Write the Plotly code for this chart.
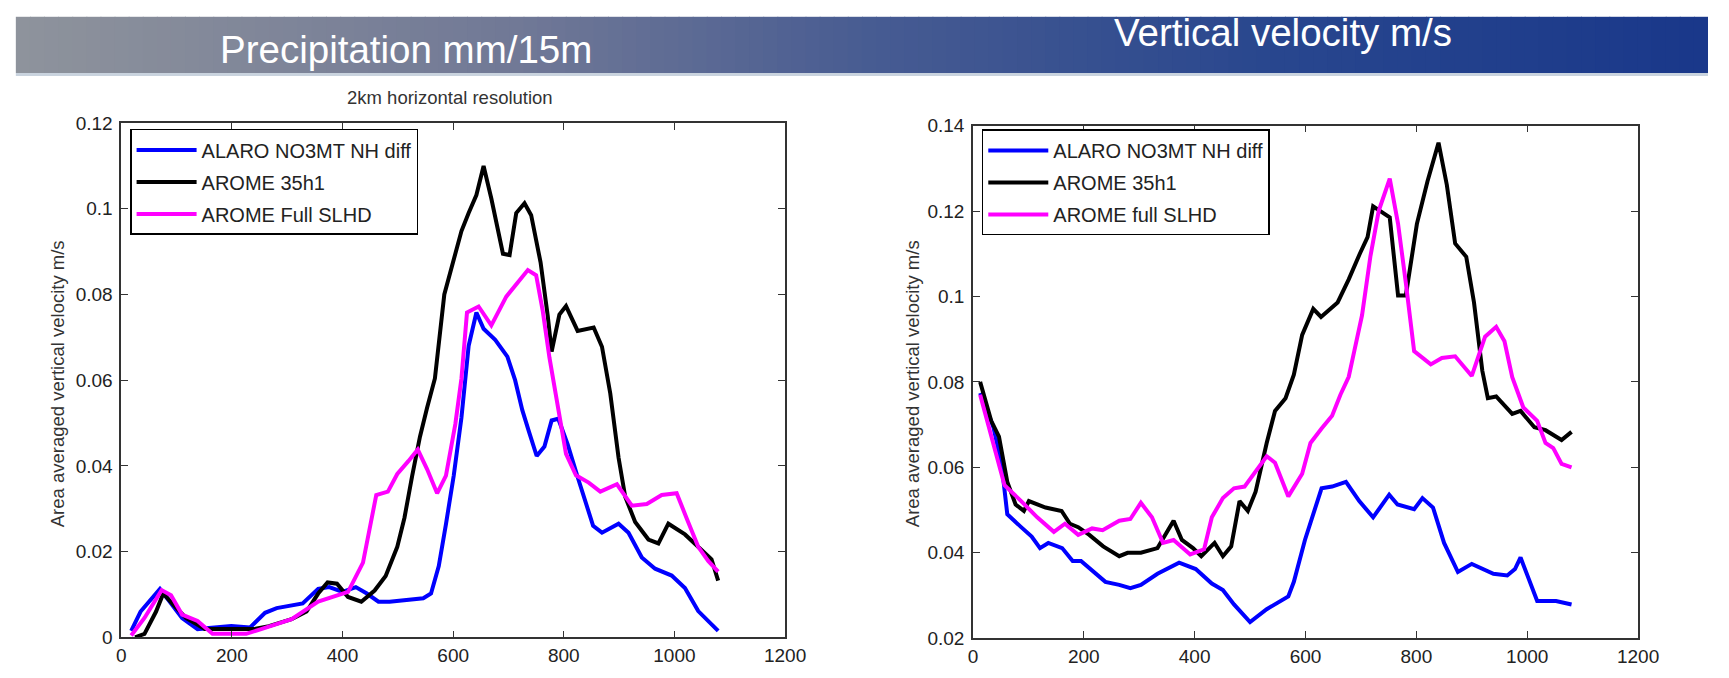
import plotly.graph_objects as go

# ---------------- data ----------------
series_names_left = ["ALARO NO3MT NH diff", "AROME 35h1", "AROME Full SLHD"]
series_names_right = ["ALARO NO3MT NH diff", "AROME 35h1", "AROME full SLHD"]

x_ticks = [0, 200, 400, 600, 800, 1000, 1200]

# Left panel (precipitation)
left_alaro_x = [18, 35, 70, 90, 110, 138, 172, 199, 233, 260, 281, 328, 356, 376, 400, 424, 444, 465, 485, 546,
                560, 574, 587, 601, 615, 628, 642, 655, 676, 698, 712, 725, 737, 751, 765, 778, 790, 807, 826, 853,
                869, 899, 917, 941, 965, 995, 1019, 1043, 1079]
left_alaro_y = [0.0015, 0.006, 0.0113, 0.008, 0.0045, 0.0019, 0.0023, 0.0026, 0.0023, 0.0057, 0.0068, 0.0079,
                0.0113, 0.0117, 0.0106, 0.0117, 0.0102, 0.0083, 0.0083, 0.0091, 0.0102, 0.0166, 0.0264, 0.0377,
                0.0513, 0.068, 0.0758, 0.072, 0.0694, 0.0655, 0.060, 0.053, 0.048, 0.0423, 0.0445, 0.0506, 0.051,
                0.045, 0.037, 0.026, 0.0244, 0.0265, 0.0244, 0.0186, 0.016, 0.0144, 0.0115, 0.0061, 0.0015]

left_arome_x = [25, 42, 63, 76, 97, 117, 151, 199, 240, 267, 308, 335, 356, 373, 390, 410, 434, 458, 478, 499,
                512, 526, 540, 553, 567, 584, 598, 615, 628, 642, 655, 669, 690, 702, 714, 729, 741, 758, 771, 778,
                792, 804, 825, 854, 869, 884, 899, 911, 929, 953, 971, 989, 1019, 1049, 1067, 1079]
left_arome_y = [0, 0.0008, 0.006, 0.0102, 0.0072, 0.0045, 0.0019, 0.0019, 0.0019, 0.0026, 0.0042, 0.006, 0.0102,
                0.0128, 0.0125, 0.0094, 0.0083, 0.0109, 0.0143, 0.0211, 0.0279, 0.0377, 0.0468, 0.0536, 0.0604,
                0.08, 0.0865, 0.0948, 0.099, 0.1032, 0.11, 0.1024, 0.0895, 0.0892, 0.099, 0.1013, 0.0985, 0.0875,
                0.075, 0.0667, 0.0753, 0.0773, 0.0715, 0.0723, 0.0678, 0.0569, 0.0419, 0.0328, 0.0269, 0.0228,
                0.0219, 0.0265, 0.024, 0.0203, 0.0182, 0.0132]

left_slhd_x = [18, 42, 73, 90, 110, 138, 165, 226, 253, 308, 356, 383, 410, 437, 461, 482, 499, 519, 536, 553,
               571, 587, 604, 615, 625, 646, 669, 696, 717, 735, 750, 762, 774, 789, 804, 822, 845, 866, 896, 923,
               950, 977, 1004, 1022, 1043, 1061, 1079]
left_slhd_y = [0.0004, 0.0045, 0.011, 0.0098, 0.0053, 0.0038, 0.0008, 0.0008, 0.0019, 0.0042, 0.0083, 0.0094,
               0.0106, 0.0174, 0.0332, 0.034, 0.0381, 0.0411, 0.0438, 0.0392, 0.0336, 0.0377, 0.0498, 0.0604,
               0.0758, 0.0772, 0.0728, 0.0795, 0.0827, 0.0857, 0.0845, 0.0761, 0.0653, 0.0536, 0.0428, 0.0378,
               0.0361, 0.034, 0.0357, 0.0307, 0.0311, 0.0332, 0.0336, 0.0278, 0.0211, 0.0178, 0.0153]

# Right panel (vertical velocity)
right_alaro_x = [13, 37, 52, 62, 87, 106, 121, 136, 161, 180, 195, 215, 239, 264, 284, 303, 333, 372, 402, 431,
                 451, 471, 500, 530, 569, 579, 599, 629, 648, 673, 697, 722, 751, 766, 796, 811, 830, 850, 875, 900,
                 939, 964, 978, 988, 1003, 1018, 1052, 1080]
right_alaro_y = [0.0774, 0.0694, 0.0604, 0.049, 0.046, 0.0438, 0.0411, 0.0423, 0.0411, 0.0381, 0.0381, 0.0358,
                 0.0332, 0.0325, 0.0317, 0.0325, 0.0351, 0.0377, 0.0362, 0.0328, 0.0313, 0.0279, 0.0238, 0.0268,
                 0.0298, 0.0332, 0.043, 0.0551, 0.0555, 0.0566, 0.0521, 0.0483, 0.0536, 0.0513, 0.0502, 0.0528,
                 0.0506, 0.0423, 0.0355, 0.0374, 0.0351, 0.0347, 0.0362, 0.0389, 0.034, 0.0287, 0.0287, 0.0279]

right_arome_x = [13, 33, 47, 62, 77, 92, 101, 131, 160, 175, 190, 210, 235, 264, 279, 303, 333, 362, 377, 397,
                 412, 436, 451, 466, 481, 496, 510, 530, 545, 564, 579, 594, 614, 628, 658, 678, 698, 712, 722, 752,
                 767, 781, 801, 820, 840, 855, 870, 890, 904, 919, 929, 944, 973, 988, 1013, 1033, 1062, 1080]
right_arome_y = [0.08, 0.0709, 0.0672, 0.0566, 0.0513, 0.0498, 0.0521, 0.0506, 0.0498, 0.0468, 0.046, 0.0442,
                 0.0415, 0.0392, 0.04, 0.04, 0.0411, 0.0475, 0.043, 0.0411, 0.0392, 0.0423, 0.0392, 0.0415, 0.0521,
                 0.0498, 0.0543, 0.0657, 0.0732, 0.0762, 0.0817, 0.091, 0.0971, 0.0952, 0.0986, 0.104, 0.11, 0.1139,
                 0.1211, 0.1185, 0.1002, 0.1002, 0.117, 0.1269, 0.136, 0.1261, 0.1124, 0.1093, 0.0986, 0.0826,
                 0.0762, 0.0766, 0.0725, 0.0732, 0.0694, 0.0687, 0.0664, 0.0683]

right_slhd_x = [13, 33, 57, 87, 116, 146, 166, 190, 215, 234, 264, 284, 303, 323, 343, 362, 392, 417, 431, 451,
                471, 490, 510, 530, 545, 569, 594, 609, 629, 648, 663, 678, 688, 702, 717, 732, 752, 767, 781, 796,
                826, 846, 870, 900, 924, 944, 959, 973, 993, 1018, 1033, 1047, 1062, 1080]
right_slhd_y = [0.077, 0.0675, 0.0558, 0.0521, 0.0483, 0.0449, 0.0468, 0.0442, 0.0457, 0.0453, 0.0475, 0.0479,
                0.0517, 0.0483, 0.0423, 0.043, 0.0396, 0.0408, 0.0483, 0.0528, 0.0551, 0.0555, 0.0589, 0.0626,
                0.0611, 0.0532, 0.0585, 0.0657, 0.0691, 0.0721, 0.077, 0.0812, 0.0872, 0.0956, 0.1093, 0.12,
                0.1276, 0.117, 0.1032, 0.0872, 0.0841, 0.0856, 0.086, 0.0814, 0.0906, 0.0929, 0.0895, 0.0811,
                0.074, 0.0709, 0.0657, 0.0645, 0.0608, 0.06]

colors = ["#0000ff", "#000000", "#ff00ff"]

# ---------------- figure ----------------
W, H = 1729, 678
FONT = "Liberation Sans, Arial, sans-serif"

fig = go.Figure()

left_sets = [(left_alaro_x, left_alaro_y), (left_arome_x, left_arome_y), (left_slhd_x, left_slhd_y)]
right_sets = [(right_alaro_x, right_alaro_y), (right_arome_x, right_arome_y), (right_slhd_x, right_slhd_y)]

for i, (xs, ys) in enumerate(left_sets):
    fig.add_trace(go.Scatter(x=xs, y=ys, mode="lines", name=series_names_left[i],
                             line=dict(color=colors[i], width=4),
                             xaxis="x", yaxis="y", legend="legend", legendgroup="L%d" % i))
for i, (xs, ys) in enumerate(right_sets):
    fig.add_trace(go.Scatter(x=xs, y=ys, mode="lines", name=series_names_right[i],
                             line=dict(color=colors[i], width=4),
                             xaxis="x2", yaxis="y2", legend="legend2", legendgroup="R%d" % i))

def px(x):
    return x / W

def py(y):
    return (H - y) / H

axis_common = dict(showline=True, linecolor="#333333", linewidth=1.5, mirror="ticks",
                   ticks="inside", ticklen=7, tickwidth=1.2, tickcolor="#333333",
                   showgrid=False, zeroline=False,
                   tickfont=dict(family=FONT, size=19, color="#222222"))

fig.update_layout(
    width=W, height=H,
    margin=dict(l=0, r=0, t=0, b=0),
    paper_bgcolor="white", plot_bgcolor="white",
    xaxis=dict(domain=[px(118), px(792)], range=[0, 1200], tickvals=x_ticks, anchor="y", **axis_common),
    yaxis=dict(domain=[py(647.3), py(116.7)], range=[0, 0.12], dtick=0.02, tick0=0, anchor="x",
               ticklabelstandoff=3, **axis_common),
    xaxis2=dict(domain=[px(982.7), px(1658)], range=[0, 1200], tickvals=x_ticks, anchor="y2", **axis_common),
    yaxis2=dict(domain=[py(648.3), py(119.3)], range=[0.02, 0.14], dtick=0.02, tick0=0.02, anchor="x2",
                ticklabelstandoff=3, **axis_common),
    legend=dict(x=px(127), y=py(122.7), xanchor="left", yanchor="top", bgcolor="white",
                bordercolor="#000000", borderwidth=1.5, itemwidth=60, tracegroupgap=3,
                font=dict(family=FONT, size=20, color="#222222")),
    legend2=dict(x=px(991.7), y=py(123.3), xanchor="left", yanchor="top", bgcolor="white",
                 bordercolor="#000000", borderwidth=1.5, itemwidth=60, tracegroupgap=3,
                 font=dict(family=FONT, size=20, color="#222222")),
    showlegend=True,
)

# Header banner with a horizontal gradient (decoration)
stops = [(0.0, (142, 147, 156)), (0.3, (112, 120, 150)), (0.5, (72, 92, 146)),
         (0.75, (40, 70, 142)), (1.0, (26, 56, 138))]

def grad(t):
    for (t0, c0), (t1, c1) in zip(stops[:-1], stops[1:]):
        if t0 <= t <= t1:
            f = (t - t0) / (t1 - t0)
            return "rgb(%d,%d,%d)" % tuple(round(a + (b - a) * f) for a, b in zip(c0, c1))
    return "rgb(%d,%d,%d)" % stops[-1][1]

shapes = []
n = 120
x0b, x1b = 11, W
for k in range(n):
    a = x0b + (x1b - x0b) * k / n
    b = x0b + (x1b - x0b) * (k + 1) / n + 1
    shapes.append(dict(type="rect", xref="paper", yref="paper", x0=px(a), x1=px(min(b, W)),
                       y0=py(65), y1=py(7), fillcolor=grad(k / (n - 1)), line=dict(width=0), layer="below"))
shapes.append(dict(type="rect", xref="paper", yref="paper", x0=px(11), x1=1, y0=py(68), y1=py(65),
                   fillcolor="#c9d3de", line=dict(width=0), layer="below"))
fig.update_layout(shapes=shapes)

annotations = [
    dict(text="Precipitation mm/15m", x=px(407), y=py(41), xref="paper", yref="paper",
         xanchor="center", yanchor="middle", showarrow=False,
         font=dict(family=FONT, size=38.5, color="white")),
    dict(text="Vertical velocity m/s", x=px(1298), y=py(23), xref="paper", yref="paper",
         xanchor="center", yanchor="middle", showarrow=False,
         font=dict(family=FONT, size=38.5, color="white")),
    dict(text="2km horizontal resolution", x=px(452), y=py(90), xref="paper", yref="paper",
         xanchor="center", yanchor="middle", showarrow=False,
         font=dict(family=FONT, size=18.5, color="#333333")),
    dict(text="Area averaged vertical velocity m/s", x=px(53), y=py(386), xref="paper", yref="paper",
         xanchor="center", yanchor="middle", showarrow=False, textangle=-90,
         font=dict(family=FONT, size=18.5, color="#333333")),
    dict(text="Area averaged vertical velocity m/s", x=px(921), y=py(386), xref="paper", yref="paper",
         xanchor="center", yanchor="middle", showarrow=False, textangle=-90,
         font=dict(family=FONT, size=18.5, color="#333333")),
]
fig.update_layout(annotations=annotations)

fig.write_html("out.html", config={"displayModeBar": False},
               post_script="document.body.style.margin='0';document.body.style.overflow='hidden';")
